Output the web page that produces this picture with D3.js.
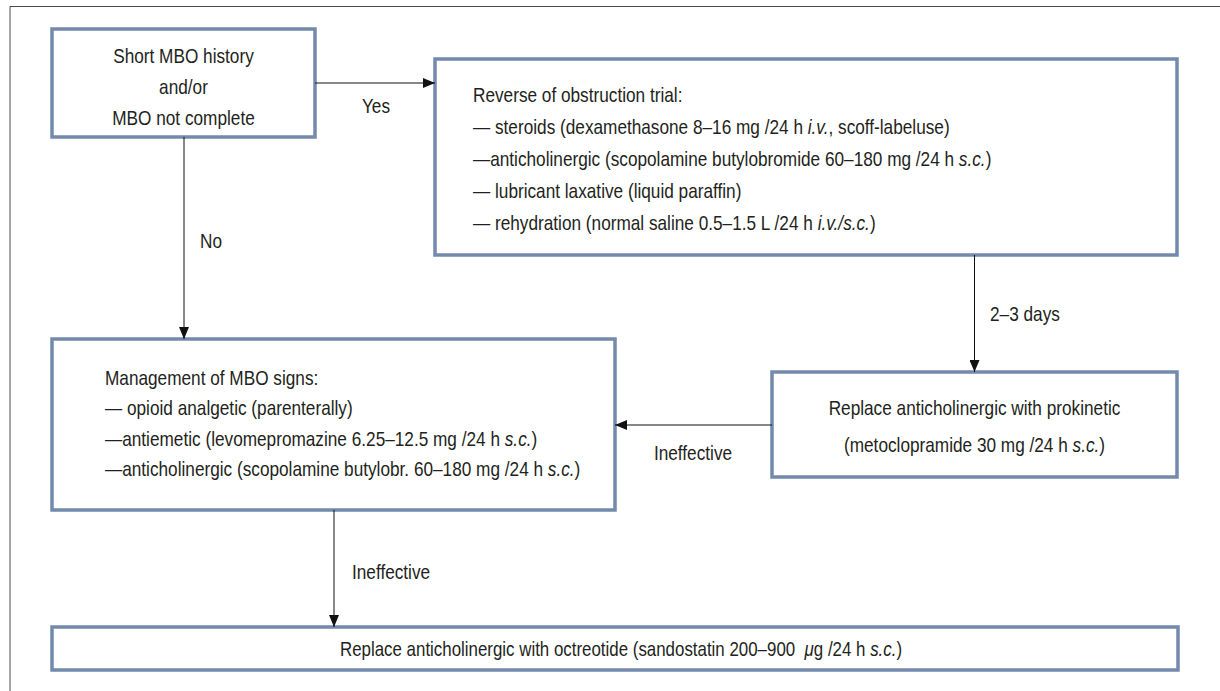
<!DOCTYPE html>
<html>
<head>
<meta charset="utf-8">
<script src="https://cdn.jsdelivr.net/npm/d3@7"></script>
<style>
  body { margin: 0; background: #fff; }
  text { font-family: "Liberation Sans Narrow", "Liberation Sans", Arial, sans-serif; fill: #231f20; }
</style>
</head>
<body>
<div class="canvas"></div>
<script>
// box texts (parts between * are italic)
const startText = ['Short MBO history', 'and/or', 'MBO not complete'];
const trialText = [
  'Reverse of obstruction trial:',
  '— steroids (dexamethasone 8–16 mg /24 h *i.v.*, scoff-labeluse)',
  '—anticholinergic (scopolamine butylobromide 60–180 mg /24 h *s.c.*)',
  '— lubricant laxative (liquid paraffin)',
  '— rehydration (normal saline 0.5–1.5 L /24 h *i.v./s.c.*)'
];
const manageText = [
  'Management of MBO signs:',
  '— opioid analgetic (parenterally)',
  '—antiemetic (levomepromazine 6.25–12.5 mg /24 h *s.c.*)',
  '—anticholinergic (scopolamine butylobr. 60–180 mg /24 h *s.c.*)'
];
const prokineticText = ['Replace anticholinergic with prokinetic', '(metoclopramide 30 mg /24 h *s.c.*)'];
const octreotideText = ['Replace anticholinergic with octreotide (sandostatin 200–900  *μ*g /24 h *s.c.*)'];

// edge labels
const edgeLabels = ['Yes', 'No', '2–3 days', 'Ineffective', 'Ineffective'];

const svg = d3.select('.canvas')
    .append('svg')
    .attr('width', 1220)
    .attr('height', 691);

// narrow look: horizontal squeeze of a regular sans
const squeeze = 0.82;

// layout of the boxes
const boxes = [
  {id: 'start', x: 52, y: 29, w: 263, h: 108, lines: startText, align: 'middle', tx: 183.5, ty: 55, step: 31, size: 21},
  {id: 'trial', x: 435, y: 59, w: 742, h: 196, lines: trialText, align: 'start', tx: 473, ty: 94, step: 32, size: 21},
  {id: 'manage', x: 52, y: 339, w: 563, h: 171, lines: manageText, align: 'start', tx: 105, ty: 377, step: 30.5, size: 21},
  {id: 'proki', x: 772, y: 372, w: 405, h: 105, lines: prokineticText, align: 'middle', tx: 974.5, ty: 407, step: 37, size: 21},
  {id: 'octreo', x: 52, y: 627, w: 1126, h: 43, lines: octreotideText, align: 'middle', tx: 621, ty: 649, step: 0, size: 20.6}
];

// edges between boxes
const edges = [
  {x1: 315, y1: 83, x2: 435, y2: 83, lx: 376, ly: 105, anchor: 'middle'},
  {x1: 184, y1: 137, x2: 184, y2: 339, lx: 200, ly: 240, anchor: 'start'},
  {x1: 974.5, y1: 255, x2: 974.5, y2: 372, lx: 990, ly: 313, anchor: 'start'},
  {x1: 772, y1: 425, x2: 615, y2: 425, lx: 693, ly: 452, anchor: 'middle'},
  {x1: 334, y1: 510, x2: 334, y2: 627, lx: 352, ly: 571, anchor: 'start'}
];

// outer frame (top and left only)
svg.append('path')
    .attr('d', 'M10,691 V6.5 H1220')
    .attr('fill', 'none')
    .attr('stroke', '#4a4a4a')
    .attr('stroke-width', 1);

svg.append('defs').append('marker')
    .attr('id', 'arrow')
    .attr('viewBox', '0 0 12 10')
    .attr('refX', 12)
    .attr('refY', 5)
    .attr('markerWidth', 12)
    .attr('markerHeight', 10)
    .attr('markerUnits', 'userSpaceOnUse')
    .attr('orient', 'auto')
  .append('path')
    .attr('d', 'M0,0 L12,5 L0,10 Z')
    .attr('fill', '#111');

// boxes
svg.selectAll('rect.box')
    .data(boxes)
    .enter()
    .append('rect')
    .attr('class', 'box')
    .attr('x', d => d.x)
    .attr('y', d => d.y)
    .attr('width', d => d.w)
    .attr('height', d => d.h)
    .attr('fill', '#fff')
    .attr('stroke', '#7389ad')
    .attr('stroke-width', 3.5);

// write one line, splitting italic parts into tspans
function writeLine(g, str, x, y, anchor, size) {
  const t = g.append('g')
      .attr('transform', `translate(${x},${y}) scale(${squeeze},1)`)
    .append('text')
      .attr('dy', '0.36em')
      .attr('text-anchor', anchor)
      .attr('font-size', size)
      .attr('xml:space', 'preserve');
  str.split('*').forEach((part, i) => {
    if (!part) return;
    t.append('tspan')
        .attr('font-style', i % 2 ? 'italic' : 'normal')
        .text(part);
  });
}

boxes.forEach(b => {
  const g = svg.append('g');
  b.lines.forEach((line, i) => {
    writeLine(g, line, b.tx, b.ty + i * b.step, b.align, b.size);
  });
});

// edges with arrow heads
svg.selectAll('line.edge')
    .data(edges)
    .enter()
    .append('line')
    .attr('class', 'edge')
    .attr('x1', d => d.x1)
    .attr('y1', d => d.y1)
    .attr('x2', d => d.x2)
    .attr('y2', d => d.y2)
    .attr('stroke', '#111')
    .attr('stroke-width', 1)
    .attr('marker-end', 'url(#arrow)');

edges.forEach((e, i) => {
  writeLine(svg, edgeLabels[i], e.lx, e.ly, e.anchor, 21);
});
</script>
</body>
</html>
